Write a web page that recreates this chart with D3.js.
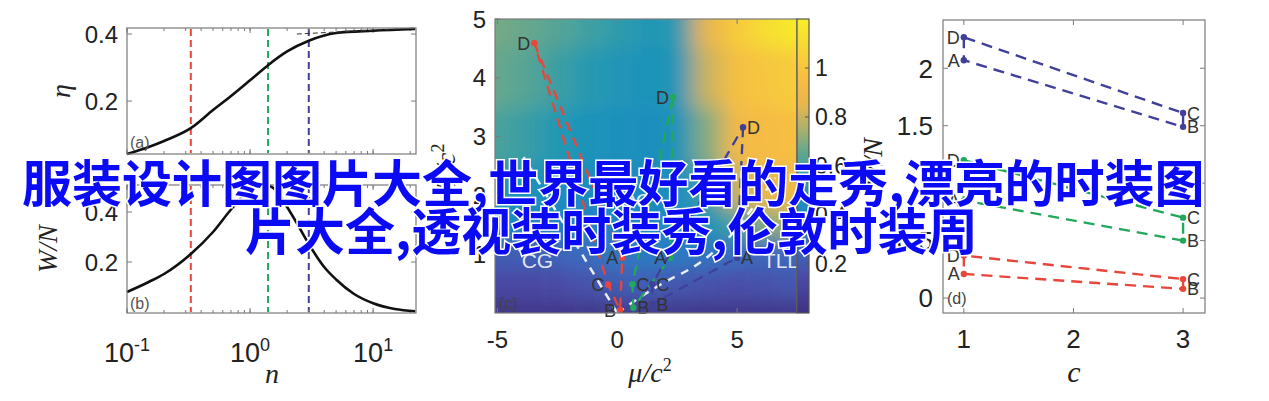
<!DOCTYPE html>
<html><head><meta charset="utf-8">
<script src="https://cdn.jsdelivr.net/npm/d3@7"></script>
<style>body{margin:0;background:#fff}svg{display:block}</style>
</head><body><svg id="c" width="1269" height="401"></svg>
<script>
// ---------------- DATA ----------------
// panel (a) eta(n)
const nA = [0.1,0.15,0.2,0.33,0.5,0.7,1,1.4,2,3,5,10,22];
const etaA = [0.042,0.063,0.081,0.119,0.173,0.215,0.262,0.307,0.348,0.38,0.403,0.41,0.415];
const asymN = [2.4,22];
const asymEta = [0.4,0.418];
// panel (b) W/N(n)
const nB = [0.1,0.15,0.2,0.33,0.5,0.7,1,1.3,1.6,2,2.5,3,4,5,7,10,15,22];
const wB = [0.08,0.12,0.152,0.232,0.32,0.41,0.49,0.51,0.49,0.42,0.34,0.272,0.18,0.13,0.072,0.035,0.012,0.003];
const markN = [0.33,1.4,3.0];
const seriesNames = ["red","green","blue"];
const seriesColors = ["#e8453b","#22a85a","#40409a"];
// panel (c) paths, point order D,A,B,C
const pointKeys = ["D","A","B","C"];
const cMu = { red:[-3.46,0.21,0.12,-0.38], green:[2.33,2.21,0.67,0.63], blue:[5.25,5.0,1.46,1.46] };
const cT  = { red:[4.59,0.94,0.05,0.48],   green:[3.67,0.94,0.09,0.49], blue:[3.16,0.94,0.15,0.49] };
const cLabelSide = { red:["l","l","l","l"], green:["l","l","r","r"], blue:["r","r","r","r"] };
const leftBoundMu = [0,-1.25,-2.9,-3.9];
const leftBoundT  = [0,0.85,1.97,2.65];
const rightBoundMu = [0,1.92,3.17,4.42,5.75,6.6];
const rightBoundT  = [0,0.51,0.78,1.19,1.84,2.3];
const regionNames = ["CG","QC","TLL"];
const regionMu = [-3.33,0.75,6.83];
const regionT = [0.9,1.92,0.9];
// heat field (colour value) on grid
const muGrid = [-5,-3.75,-2.5,-1.25,0,1.25,2.5,3.75,5,6.25,7.5];
const tGrid = [5,4,3,2,1.5,1,0.5,0];
const field = [
 [0.68,0.66,0.63,0.59,0.55,0.51,0.53,0.85,1.02,1.12,1.18],
 [0.66,0.63,0.58,0.53,0.50,0.48,0.51,0.80,0.97,1.00,1.04],
 [0.61,0.57,0.52,0.49,0.47,0.46,0.49,0.70,0.92,0.95,0.97],
 [0.52,0.48,0.46,0.44,0.43,0.43,0.46,0.58,0.80,0.88,0.90],
 [0.42,0.40,0.39,0.38,0.39,0.41,0.43,0.48,0.60,0.70,0.75],
 [0.22,0.23,0.25,0.28,0.33,0.36,0.35,0.32,0.28,0.26,0.26],
 [0.14,0.14,0.15,0.18,0.22,0.22,0.20,0.18,0.17,0.18,0.20],
 [0.04,0.04,0.04,0.05,0.06,0.06,0.05,0.05,0.05,0.05,0.05]
];
const cbTicks = [0.2,0.4,0.6,0.8,1];
const cbTickLabels = ["0.2","0.4","0.6","0.8","1"];
const cmapStops = [0,0.15,0.28,0.42,0.52,0.65,0.75,0.85,0.95,1.2];
const cmapColors = ["#3f3282","#4a4ba6","#3a6cc0","#1e88c4","#2098b4","#5ea690","#aab06e","#e8b64e","#f6bc44","#f8ee2a"];
// panel (d), order D,A,B,C
const dC = [1,1,3,3];
const dVals = { red:[0.37,0.21,0.08,0.165], green:[1.2,0.85,0.50,0.70], blue:[2.27,2.07,1.49,1.61] };
const dLabelSide = ["l","l","r","r"];
// ticks
const abYTicks = [0.2,0.4];
const abXTicks = [0.1,1,10];
const abXExp = ["-1","0","1"];
const cXTicks = [-5,0,5];
const cYTicks = [1,2,3,4,5];
const dXTicks = [1,2,3];
const dYTicks = [0,0.5,1,1.5,2];
const dYLabels = ["0","0.5","1","1.5","2"];
// overlay
const overlayLines = ["服装设计图图片大全,世界最好看的走秀,漂亮的时装图","片大全,透视装时装秀,伦敦时装周"];

// ---------------- DRAW ----------------
const svg = d3.select('#c');
svg.append('rect').attr('width',1269).attr('height',401).attr('fill','#fff');
const frameColor = '#7a7a7a';
const tickFont = '"Liberation Sans", Arial, sans-serif';
const mathFont = '"Liberation Serif", "DejaVu Serif", serif';
const defs = svg.append('defs');

function frame(x0,y0,x1,y1){
  svg.append('rect').attr('x',x0).attr('y',y0).attr('width',x1-x0).attr('height',y1-y0)
    .attr('fill','none').attr('stroke',frameColor).attr('stroke-width',1.2);
}
function vTicks(scale, vals, y0, y1, len){
  const g = svg.append('g').attr('stroke',frameColor).attr('stroke-width',1);
  g.selectAll('.b').data(vals).join('line').attr('x1',d=>scale(d)).attr('x2',d=>scale(d)).attr('y1',y1).attr('y2',y1-len);
  g.selectAll('.t').data(vals).join('line').attr('x1',d=>scale(d)).attr('x2',d=>scale(d)).attr('y1',y0).attr('y2',y0+len);
}
function hTicks(scale, vals, x0, x1, len, both=true){
  const g = svg.append('g').attr('stroke',frameColor).attr('stroke-width',1);
  g.selectAll('.l').data(vals).join('line').attr('y1',d=>scale(d)).attr('y2',d=>scale(d)).attr('x1',x0).attr('x2',x0+len);
  if(both) g.selectAll('.r').data(vals).join('line').attr('y1',d=>scale(d)).attr('y2',d=>scale(d)).attr('x1',x1).attr('x2',x1-len);
}

// ---- panels a & b ----
const xA = d3.scaleLog().domain([0.1,22.3]).range([127,416]);
const yA = d3.scaleLinear().domain([0.042,0.418]).range([154,28]);
const yB = d3.scaleLinear().domain([-0.004,0.508]).range([313,185]);
const minor = [];
[-1,0,1].forEach(e=>d3.range(1,10).forEach(m=>{const v=m*Math.pow(10,e); if(v>=0.1&&v<=22.3) minor.push(v);}));

[[yA,28,154],[yB,185,313]].forEach(([ys,y0,y1])=>{
  svg.append('g').selectAll('line').data(markN).join('line')
    .attr('x1',d=>xA(d)).attr('x2',d=>xA(d)).attr('y1',y0+1).attr('y2',y1-1)
    .attr('stroke',(d,i)=>seriesColors[i]).attr('stroke-width',2).attr('stroke-dasharray','7,4');
  vTicks(xA, minor, y0, y1, 3);
  vTicks(xA, abXTicks, y0, y1, 5);
  hTicks(ys, abYTicks, 127, 416, 5);
  svg.append('g').selectAll('text').data(abYTicks).join('text')
    .attr('x',118).attr('y',d=>ys(d)).attr('dy','0.36em').attr('text-anchor','end')
    .attr('font-family',tickFont).attr('font-size',24).attr('fill','#222').text(d=>d.toFixed(1));
});
const lineA = d3.line().x((d,i)=>xA(nA[i])).y(d=>yA(d)).curve(d3.curveMonotoneX);
svg.append('path').attr('d',lineA(etaA)).attr('fill','none').attr('stroke','#111').attr('stroke-width',2.6);
svg.append('path').attr('d',d3.line().x((d,i)=>xA(asymN[i])).y(d=>yA(d))(asymEta))
  .attr('fill','none').attr('stroke','#333').attr('stroke-width',1).attr('stroke-dasharray','5,3');
const lineB = d3.line().x((d,i)=>xA(nB[i])).y(d=>yB(d)).curve(d3.curveMonotoneX);
svg.append('path').attr('d',lineB(wB)).attr('fill','none').attr('stroke','#111').attr('stroke-width',2.6);
frame(127,28,416,154);
frame(127,185,416,313);
svg.append('text').attr('x',130).attr('y',148).attr('font-family',tickFont).attr('font-size',16).attr('fill','#555').text('(a)');
svg.append('text').attr('x',130).attr('y',309).attr('font-family',tickFont).attr('font-size',16).attr('fill','#555').text('(b)');
const xl = svg.append('g').selectAll('text').data(abXTicks).join('text')
  .attr('x',d=>xA(d)).attr('y',362).attr('text-anchor','middle')
  .attr('font-family',tickFont).attr('font-size',27).attr('fill','#222');
xl.append('tspan').text('10');
xl.append('tspan').attr('font-size',18).attr('dy',-11).text((d,i)=>abXExp[i]);
svg.append('text').attr('x',272).attr('y',383).attr('text-anchor','middle').attr('font-family',mathFont)
  .attr('font-style','italic').attr('font-size',28).attr('fill','#222').text('n');
svg.append('text').attr('transform','translate(70,91) rotate(-90)').attr('text-anchor','middle')
  .attr('font-family',mathFont).attr('font-style','italic').attr('font-size',28).attr('fill','#222').text('η');
svg.append('text').attr('transform','translate(57,249) rotate(-90)').attr('text-anchor','middle')
  .attr('font-family',mathFont).attr('font-style','italic').attr('font-size',27).attr('fill','#222').text('W/N');

// ---- panel c ----
const xC = d3.scaleLinear().domain([-5.1,7.5]).range([495,797]);
const yC = d3.scaleLinear().domain([0,5]).range([313,19]);
const cmap = d3.scaleLinear().domain(cmapStops).range(cmapColors).clamp(true);
defs.append('clipPath').attr('id','clipC').append('rect').attr('x',495).attr('y',19).attr('width',302).attr('height',294);
const blur = defs.append('filter').attr('id','blurC').attr('filterUnits','userSpaceOnUse')
  .attr('x',420).attr('y',-60).attr('width',460).attr('height',460);
blur.append('feGaussianBlur').attr('stdDeviation','11 9');
const cells = [];
tGrid.forEach((t,r)=>muGrid.forEach((m,c)=>{
  const xl0 = c===0 ? xC(m)-50 : (xC(muGrid[c-1])+xC(m))/2;
  const xr0 = c===muGrid.length-1 ? xC(m)+50 : (xC(muGrid[c+1])+xC(m))/2;
  const yt0 = r===0 ? yC(t)-50 : (yC(tGrid[r-1])+yC(t))/2;
  const yb0 = r===tGrid.length-1 ? yC(t)+50 : (yC(tGrid[r+1])+yC(t))/2;
  cells.push({x:xl0,y:yt0,w:xr0-xl0,h:yb0-yt0,v:field[r][c]});
}));
svg.append('g').attr('clip-path','url(#clipC)').append('g').attr('filter','url(#blurC)')
  .selectAll('rect').data(cells).join('rect')
  .attr('x',d=>d.x).attr('y',d=>d.y).attr('width',d=>d.w+0.5).attr('height',d=>d.h+0.5).attr('fill',d=>cmap(d.v));
const gc = svg.append('g').attr('clip-path','url(#clipC)');
const bl = d3.line().x(d=>xC(d[0])).y(d=>yC(d[1])).curve(d3.curveMonotoneY);
gc.append('path').attr('d',bl(leftBoundMu.map((m,i)=>[m,leftBoundT[i]])))
  .attr('fill','none').attr('stroke','#fff').attr('stroke-opacity',0.9).attr('stroke-width',2.5).attr('stroke-dasharray','8,7');
gc.append('path').attr('d',bl(rightBoundMu.map((m,i)=>[m,rightBoundT[i]])))
  .attr('fill','none').attr('stroke','#fff').attr('stroke-opacity',0.9).attr('stroke-width',2.5).attr('stroke-dasharray','8,7');
gc.selectAll('text.reg').data(regionNames).join('text').attr('class','reg')
  .attr('x',(d,i)=>xC(regionMu[i])).attr('y',(d,i)=>yC(regionT[i])).attr('dy','0.36em').attr('text-anchor','middle')
  .attr('font-family',tickFont).attr('font-size',21).attr('fill','#fff').attr('fill-opacity',0.85).text(d=>d);
seriesNames.forEach((s,si)=>{
  const pts = cMu[s].map((m,i)=>[xC(m),yC(cT[s][i])]);
  gc.append('path').attr('d',d3.line()(pts)+'Z').attr('fill','none').attr('stroke',seriesColors[si])
    .attr('stroke-width',2.3).attr('stroke-dasharray','10,7');
  gc.selectAll('circle.'+s).data(pts).join('circle').attr('cx',d=>d[0]).attr('cy',d=>d[1]).attr('r',3.2).attr('fill',seriesColors[si]);
  svg.append('g').selectAll('text').data(pts).join('text')
    .attr('x',(d,i)=>cLabelSide[s][i]==='l'?d[0]-4:d[0]+4).attr('y',d=>d[1]).attr('dy','0.36em')
    .attr('text-anchor',(d,i)=>cLabelSide[s][i]==='l'?'end':'start')
    .attr('font-family',tickFont).attr('font-size',18).attr('fill','#333').text((d,i)=>pointKeys[i]);
});
vTicks(xC, cXTicks, 19, 313, 5);
hTicks(yC, cYTicks, 495, 797, 5, false);
frame(495,19,797,313);
svg.append('text').attr('x',499).attr('y',309).attr('font-family',tickFont).attr('font-size',16).attr('fill','#444').text('(c)');
svg.append('g').selectAll('text').data(cXTicks).join('text').attr('x',d=>xC(d)).attr('y',348).attr('text-anchor','middle')
  .attr('font-family',tickFont).attr('font-size',24).attr('fill','#222').text(d=>d);
svg.append('g').selectAll('text').data(cYTicks).join('text').attr('x',486).attr('y',d=>yC(d)).attr('dy','0.36em').attr('text-anchor','end')
  .attr('font-family',tickFont).attr('font-size',24).attr('fill','#222').text(d=>d);
const mu = svg.append('text').attr('x',650).attr('y',382).attr('text-anchor','middle').attr('font-family',mathFont)
  .attr('font-style','italic').attr('font-size',28).attr('fill','#222');
mu.append('tspan').text('μ/c');
mu.append('tspan').attr('font-size',18).attr('dy',-11).attr('font-style','normal').text('2');
const tl = svg.append('text').attr('transform','translate(455,166) rotate(-90)').attr('text-anchor','middle').attr('font-family',mathFont)
  .attr('font-style','italic').attr('font-size',28).attr('fill','#222');
tl.append('tspan').text('T/c');
tl.append('tspan').attr('font-size',18).attr('dy',-11).attr('font-style','normal').text('2');
// colorbar
const yCB = d3.scaleLinear().domain([0,1.2]).range([313,19]);
const grad = defs.append('linearGradient').attr('id','cbg').attr('x1',0).attr('y1',1).attr('x2',0).attr('y2',0);
grad.selectAll('stop').data(d3.range(0,1.2001,0.05)).join('stop').attr('offset',d=>d/1.2).attr('stop-color',d=>cmap(d));
svg.append('rect').attr('x',797).attr('y',19).attr('width',12).attr('height',294).attr('fill','url(#cbg)')
  .attr('stroke','#555').attr('stroke-width',1.2);
svg.append('g').selectAll('line').data(cbTicks).join('line').attr('x1',809).attr('x2',805)
  .attr('y1',d=>yCB(d)).attr('y2',d=>yCB(d)).attr('stroke','#555');
svg.append('g').selectAll('text').data(cbTicks).join('text').attr('x',815).attr('y',d=>yCB(d)).attr('dy','0.36em')
  .attr('font-family',tickFont).attr('font-size',23).attr('fill','#222').text((d,i)=>cbTickLabels[i]);

// ---- panel d ----
const xD = d3.scaleLinear().domain([0.81,3.2]).range([943,1205]);
const yD = d3.scaleLinear().domain([-0.13,2.42]).range([313,20]);
vTicks(xD, dXTicks, 20, 313, 5);
hTicks(yD, dYTicks, 943, 1205, 5);
seriesNames.forEach((s,si)=>{
  const pts = dVals[s].map((v,i)=>[xD(dC[i]),yD(v)]);
  svg.append('path').attr('d',d3.line()(pts)+'Z').attr('fill','none').attr('stroke',seriesColors[si])
    .attr('stroke-width',2.4).attr('stroke-dasharray','11,7');
  svg.append('g').selectAll('circle').data(pts).join('circle').attr('cx',d=>d[0]).attr('cy',d=>d[1]).attr('r',3.2).attr('fill',seriesColors[si]);
  svg.append('g').selectAll('text').data(pts).join('text')
    .attr('x',(d,i)=>dLabelSide[i]==='l'?d[0]-4:d[0]+4).attr('y',d=>d[1]).attr('dy','0.36em')
    .attr('text-anchor',(d,i)=>dLabelSide[i]==='l'?'end':'start')
    .attr('font-family',tickFont).attr('font-size',18).attr('fill','#333').text((d,i)=>pointKeys[i]);
});
frame(943,20,1205,313);
svg.append('text').attr('x',947).attr('y',304).attr('font-family',tickFont).attr('font-size',16).attr('fill','#444').text('(d)');
svg.append('g').selectAll('text').data(dXTicks).join('text').attr('x',d=>xD(d)).attr('y',348).attr('text-anchor','middle')
  .attr('font-family',tickFont).attr('font-size',26).attr('fill','#222').text(d=>d);
svg.append('g').selectAll('text').data(dYTicks).join('text').attr('x',933).attr('y',d=>yD(d)).attr('dy','0.36em').attr('text-anchor','end')
  .attr('font-family',tickFont).attr('font-size',26).attr('fill','#222').text((d,i)=>dYLabels[i]);
svg.append('text').attr('x',1074).attr('y',382).attr('text-anchor','middle').attr('font-family',mathFont)
  .attr('font-style','italic').attr('font-size',30).attr('fill','#222').text('c');
svg.append('text').attr('transform','translate(882,163) rotate(-90)').attr('text-anchor','middle')
  .attr('font-family',mathFont).attr('font-style','italic').attr('font-size',28).attr('fill','#222').text('W/N');

// ---- overlay text ----
svg.append('g').selectAll('text').data(overlayLines).join('text')
  .attr('x',(d,i)=>i===0?22:245).attr('y',(d,i)=>i===0?202:250)
  .attr('font-family','"Noto Sans CJK SC", sans-serif').attr('font-weight','bold').attr('font-size',50)
  .attr('fill','#0a0af5').attr('stroke','#fff').attr('stroke-width',3).attr('paint-order','stroke')
  .text(d=>d);
</script></body></html>
